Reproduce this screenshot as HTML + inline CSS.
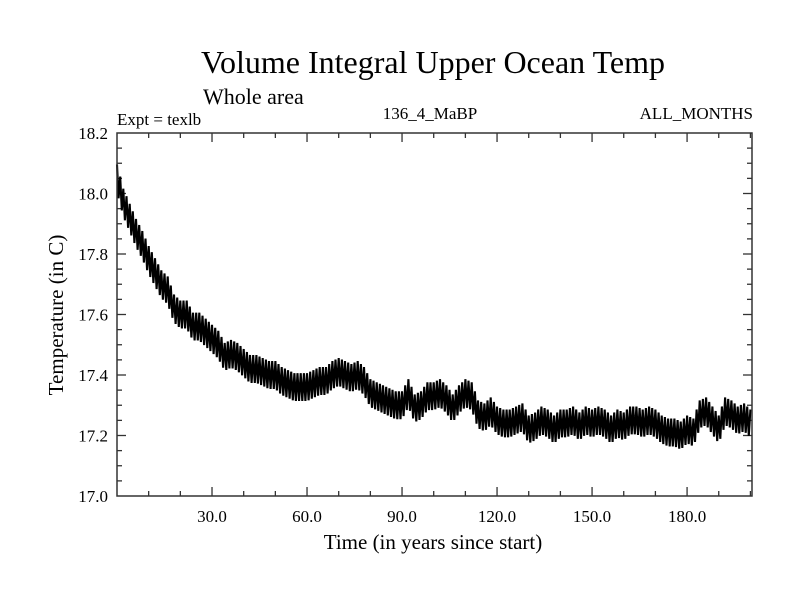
<!DOCTYPE html>
<html><head><meta charset="utf-8"><style>
body{margin:0;background:#fff}
svg{display:block;font-family:"Liberation Serif",serif}
</style></head><body>
<svg id="chart" width="800" height="600">
<text x="433" y="73" font-size="32" text-anchor="middle">Volume Integral Upper Ocean Temp</text>
<text x="203" y="104" font-size="22">Whole area</text>
<text x="117" y="125" font-size="17">Expt = texlb</text>
<text x="430" y="119" font-size="17" text-anchor="middle">136_4_MaBP</text>
<text x="753" y="119" font-size="17" text-anchor="end">ALL_MONTHS</text>
<text x="433" y="549" font-size="21" text-anchor="middle">Time (in years since start)</text>
<text transform="translate(63,315) rotate(-90)" font-size="21" text-anchor="middle">Temperature (in C)</text>
<g id="axes"></g>
<path id="series" fill="none" stroke="#000" stroke-width="2.1" stroke-linejoin="miter"></path>
<rect x="117" y="133" width="635" height="363" fill="none" stroke="#333" stroke-width="1.5"></rect>
</svg>
<script>
const years=[0,2,4,6,8,10,12,14,16,18,20,22,24,26,28,30,32,34,36,38,40,42,44,46,48,50,52,54,56,58,60,62,64,66,68,70,72,74,76,78,80,82,84,86,88,90,92,94,96,98,100,102,104,106,108,110,112,114,116,118,120,122,124,126,128,130,132,134,136,138,140,142,144,146,148,150,152,154,156,158,160,162,164,166,168,170,172,174,176,178,180,182,184,186,188,190,192,194,196,198,200];
const temps=[18.05,17.97,17.92,17.87,17.83,17.78,17.74,17.70,17.68,17.62,17.60,17.60,17.56,17.56,17.54,17.52,17.50,17.46,17.47,17.46,17.44,17.42,17.42,17.41,17.40,17.40,17.38,17.37,17.36,17.36,17.36,17.37,17.38,17.38,17.40,17.41,17.40,17.39,17.40,17.38,17.34,17.33,17.32,17.31,17.30,17.30,17.34,17.29,17.30,17.33,17.33,17.34,17.32,17.29,17.32,17.34,17.33,17.27,17.26,17.28,17.25,17.24,17.24,17.25,17.26,17.22,17.23,17.25,17.24,17.22,17.24,17.24,17.25,17.23,17.25,17.24,17.25,17.24,17.22,17.24,17.23,17.25,17.25,17.24,17.25,17.24,17.22,17.21,17.21,17.20,17.22,17.21,17.27,17.28,17.25,17.22,17.28,17.27,17.25,17.26,17.24];
const seasonalAmp=0.046;
const xTicks=[30,60,90,120,150,180];
const xTickLabels=["30.0","60.0","90.0","120.0","150.0","180.0"];
const yTicks=[17.0,17.2,17.4,17.6,17.8,18.0,18.2];
const yTickLabels=["17.0","17.2","17.4","17.6","17.8","18.0","18.2"];
const L=117,R=752,T=133,B=496,X0=0,X1=200.5,Y0=17.0,Y1=18.2;
const sx=v=>L+(v-X0)/(X1-X0)*(R-L);
const sy=v=>B-(v-Y0)/(Y1-Y0)*(B-T);
const NS="http://www.w3.org/2000/svg";
const ax=document.getElementById('axes');
function line(x1,y1,x2,y2,name){const l=document.createElementNS(NS,'line');l.setAttribute('x1',x1);l.setAttribute('y1',y1);l.setAttribute('x2',x2);l.setAttribute('y2',y2);l.setAttribute('stroke','#333');l.setAttribute('stroke-width','1.3');


ax.appendChild(l);}
function txt(x,y,s,anchor,name){const t=document.createElementNS(NS,'text');t.setAttribute('x',x);t.setAttribute('y',y);t.setAttribute('font-size','17');t.setAttribute('text-anchor',anchor);t.textContent=s;


ax.appendChild(t);}
for(let v=10;v<=200;v+=10){const x=sx(v),major=v%30===0,len=major?9:5;line(x,B,x,B-len,'x-tick');line(x,T,x,T+len,'x-tick-top');}
xTicks.forEach((v,i)=>txt(sx(v),522,xTickLabels[i],'middle','x-tick-label'));
for(let k=1;k<24;k++){const v=Y0+k*0.05,y=sy(v),major=k%4===0,len=major?9:5;line(L,y,L+len,y,'y-tick');line(R,y,R-len,y,'y-tick-right');}
yTicks.forEach((v,i)=>txt(108,sy(v)+6,yTickLabels[i],'end','y-tick-label'));
let d='';
for(let i=0;i<years.length-1;i++){
  const a=years[i],b=years[i+1],ta=temps[i],tb=temps[i+1];
  for(let s=0;s<4;s++){
    const f=s/4,yr=a+(b-a)*f,base=ta+(tb-ta)*f,v=base+(s%2===0?seasonalAmp:-seasonalAmp);
    d+=(d?'L':'M')+sx(yr).toFixed(1)+','+sy(v).toFixed(1);
  }
}
d+='L'+sx(years[years.length-1]).toFixed(1)+','+sy(temps[temps.length-1]+seasonalAmp).toFixed(1);
document.getElementById('series').setAttribute('d',d);
</script>
</body></html>
